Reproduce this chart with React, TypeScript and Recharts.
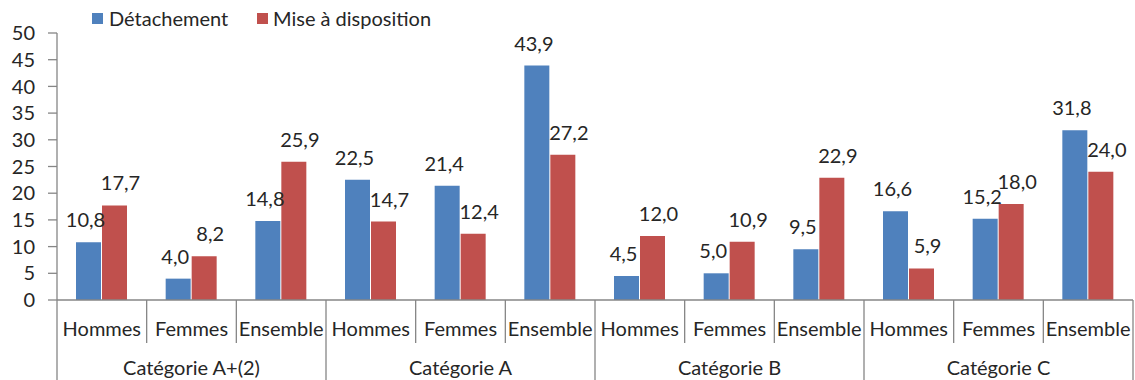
import React from 'react';
import { BarChart, Bar, XAxis, YAxis, LabelList, Legend } from 'recharts';

const subLabels = ['Hommes', 'Femmes', 'Ensemble', 'Hommes', 'Femmes', 'Ensemble', 'Hommes', 'Femmes', 'Ensemble', 'Hommes', 'Femmes', 'Ensemble'];
const groupLabels = ['Catégorie A+(2)', 'Catégorie A', 'Catégorie B', 'Catégorie C'];
const detachement = [10.8, 4.0, 14.8, 22.5, 21.4, 43.9, 4.5, 5.0, 9.5, 16.6, 15.2, 31.8];
const miseADisposition = [17.7, 8.2, 25.9, 14.7, 12.4, 27.2, 12.0, 10.9, 22.9, 5.9, 18.0, 24.0];
const yTicks = [0, 5, 10, 15, 20, 25, 30, 35, 40, 45, 50];

const data = subLabels.map((s, i) => ({
  key: `${i}`,
  sub: s,
  group: groupLabels[Math.floor(i / 3)],
  det: detachement[i],
  mad: miseADisposition[i],
}));

const BLUE = '#4F81BD';
const RED = '#C0504D';
const AXIS = '#868686';
const TEXT = '#262626';
const FONT = 'Lato, "Liberation Sans", sans-serif';

const fmt = (v: number) => v.toFixed(1).replace('.', ',');

const XTick = (props: any) => {
  const { x, y, payload, index } = props;
  const half = payload.offset || 0;
  const d = data[index];
  const isGroupStart = index % 3 === 0;
  return (
    <g>
      <line x1={x - half} y1={y} x2={x - half} y2={isGroupStart ? y + 80 : y + 43} stroke={AXIS} strokeWidth={1.3} />
      {index === data.length - 1 && (
        <line x1={x + half} y1={y} x2={x + half} y2={y + 80} stroke={AXIS} strokeWidth={1.3} />
      )}
      <text x={x} y={y + 36} textAnchor="middle" fill={TEXT} fontSize={20} fontFamily={FONT}>
        {d.sub}
      </text>
      {index % 3 === 1 && (
        <text x={x} y={y + 75} textAnchor="middle" fill={TEXT} fontSize={20} fontFamily={FONT}>
          {d.group}
        </text>
      )}
    </g>
  );
};

const makeLabel = (dx: number) => (props: any) => {
  const { x, y, width, value } = props;
  return (
    <text x={x + width / 2 + dx} y={y - 15} textAnchor="middle" fill={TEXT} fontSize={20} fontFamily={FONT}>
      {fmt(value)}
    </text>
  );
};

const LegendContent = () => (
  <div style={{ position: 'relative', width: 1135, height: 26, fontFamily: FONT, fontSize: 20, color: TEXT }}>
    <span style={{ position: 'absolute', left: 92, top: 8, width: 11, height: 11, background: BLUE }} />
    <span style={{ position: 'absolute', left: 109, top: 0, lineHeight: '26px', whiteSpace: 'nowrap' }}>Détachement</span>
    <span style={{ position: 'absolute', left: 257, top: 8, width: 11, height: 11, background: RED }} />
    <span style={{ position: 'absolute', left: 273, top: 0, lineHeight: '26px', whiteSpace: 'nowrap' }}>Mise à disposition</span>
  </div>
);

export default function App() {
  return (
    <div style={{ position: 'absolute', left: 0, top: 0, width: 1135, height: 380, background: '#fff' }}>
      <BarChart
        width={1135}
        height={380}
        data={data}
        margin={{ top: 33, right: 2, left: 0, bottom: 0 }}
        barSize={25}
        barGap={1}
      >
        <Legend
          verticalAlign="middle"
          align="center"
          layout="horizontal"
          wrapperStyle={{ top: 5, left: 0, width: 1135 }}
          content={<LegendContent />}
        />
        <YAxis
          width={57}
          domain={[0, 50]}
          ticks={yTicks}
          interval={0}
          tickSize={9}
          tickMargin={13}
          axisLine={{ stroke: AXIS, strokeWidth: 1.3 }}
          tickLine={{ stroke: AXIS, strokeWidth: 1.3 }}
          tick={{ fill: TEXT, fontSize: 20, fontFamily: FONT }}
        />
        <XAxis
          dataKey="key"
          height={80}
          interval={0}
          tickSize={0}
          tickMargin={0}
          tickLine={false}
          axisLine={{ stroke: AXIS, strokeWidth: 1.3 }}
          tick={<XTick />}
        />
        <Bar dataKey="det" fill={BLUE} isAnimationActive={false}>
          <LabelList dataKey="det" content={makeLabel(-3)} />
        </Bar>
        <Bar dataKey="mad" fill={RED} isAnimationActive={false}>
          <LabelList dataKey="mad" content={makeLabel(6)} />
        </Bar>
      </BarChart>
    </div>
  );
}
